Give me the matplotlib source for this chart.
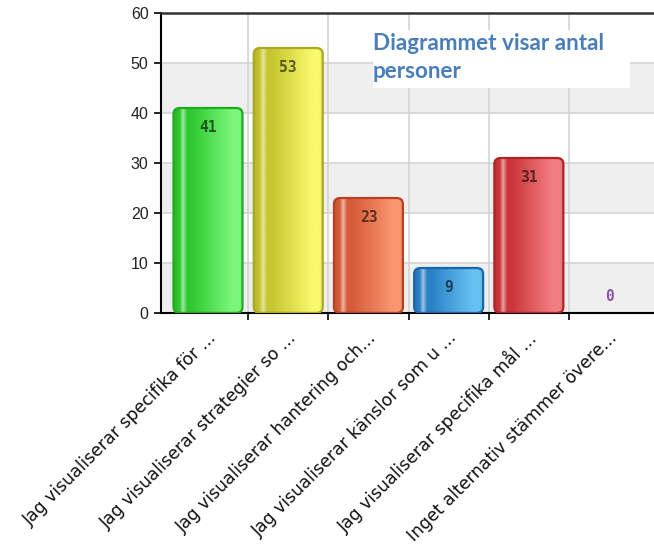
import numpy as np
import matplotlib
matplotlib.use('Agg')
from matplotlib import pyplot as plt
from matplotlib.patches import FancyBboxPatch, Rectangle
from matplotlib.colors import to_rgb
from matplotlib.transforms import ScaledTranslation

categories = [
    'Jag visualiserar specifika för ...',
    'Jag visualiserar strategier so ...',
    'Jag visualiserar hantering och...',
    'Jag visualiserar känslor som u ...',
    'Jag visualiserar specifika mål ...',
    'Inget alternativ stämmer övere...',
]
values = [41, 53, 23, 9, 31, 0]
y_ticks = [0, 10, 20, 30, 40, 50, 60]
note = 'Diagrammet visar antal\npersoner'

# (dark side, light side, edge) for each bar
bar_colours = [
    ('#2fc82f', '#7cf77c', '#1faa1f'),
    ('#c6c630', '#f9f96c', '#a9a922'),
    ('#d65a38', '#f99670', '#b84022'),
    ('#2a80c6', '#66c2f2', '#1b64a8'),
    ('#cb3438', '#f27e82', '#b02226'),
    ('#9966bb', '#bb99dd', '#8855aa'),
]
label_zero_colour = '#8855aa'

fig = plt.figure(figsize=(6.54, 5.52), dpi=100)
ax = fig.add_axes([161/654, 1 - 313/552, 1 - 161/654, 300/552])

x = np.arange(len(categories))
bars = ax.bar(x, values, width=0.86, color='none', edgecolor='none', zorder=2)


def gradient(dark, light, n=200):
    d = np.array(to_rgb(dark))
    l = np.array(to_rgb(light))
    hi = d + (1 - d) * 0.55
    pos = [0.0, 0.08, 0.13, 0.19, 0.25, 0.85, 0.95, 1.0]
    cols = [d * 0.92, d, hi, d, d, l, l, l * 0.93]
    t = np.linspace(0, 1, n)
    img = np.stack([np.interp(t, pos, [c[k] for c in cols]) for k in range(3)], axis=-1)
    return img[np.newaxis, :, :]


for rect, (dark, light, edge), v in zip(bars, bar_colours, values):
    if v <= 0:
        continue
    x0, w, h = rect.get_x(), rect.get_width(), rect.get_height()
    patch = FancyBboxPatch((x0, 0), w, h,
                           boxstyle='round,pad=0,rounding_size=0.08',
                           mutation_aspect=15, facecolor='none',
                           edgecolor=edge, linewidth=1.6, zorder=3)
    ax.add_patch(patch)
    im = ax.imshow(gradient(dark, light), extent=(x0, x0 + w, 0, h),
                   aspect='auto', zorder=2.5, interpolation='bilinear')
    im.set_clip_path(patch)

for xi, v in zip(x, values):
    if v > 0:
        ax.text(xi, v - 4.0, str(v), ha='center', va='center',
                fontsize=10.5, fontweight='bold', family='DejaVu Sans Mono',
                color='black', alpha=0.6, zorder=4)
    else:
        ax.text(xi, v + 3.3, str(v), ha='center', va='center',
                fontsize=10.5, fontweight='bold', family='DejaVu Sans Mono',
                color=label_zero_colour, zorder=4)

# background bands
for lo in y_ticks[:-1:2]:
    ax.axhspan(lo, lo + 10, color='#efefef', zorder=0, linewidth=0)

ax.set_xlim(-0.586, 5.56)
ax.set_ylim(0, 60)
ax.set_yticks(y_ticks)
ax.set_xticks(x[:-1] + 0.5)
ax.set_xticklabels([])
ax.set_xticks(x, minor=True)
ax.set_xticklabels(categories, minor=True, rotation=45, ha='right',
                   va='center', rotation_mode='anchor',
                   family='DejaVu Sans', fontsize=12.4, color='#111111')
ax.tick_params(axis='x', which='minor', length=0, pad=16)
ax.tick_params(axis='x', which='major', length=5, width=1.2, color='black')
ax.tick_params(axis='y', length=5, width=1.2, pad=4, labelsize=11.5,
               labelcolor='#222222')
for lbl in ax.get_yticklabels():
    lbl.set_family('Liberation Sans')
for lbl in ax.get_xticklabels(minor=True):
    lbl.set_transform(lbl.get_transform() + ScaledTranslation(4/72, 0, fig.dpi_scale_trans))

ax.set_axisbelow(True)
ax.grid(which='major', color='#d4d4d4', linewidth=1.2)

ax.spines['right'].set_visible(False)
ax.spines['top'].set_color('#333333')
ax.spines['top'].set_linewidth(1.8)
ax.spines['left'].set_linewidth(1.5)
ax.spines['bottom'].set_linewidth(1.5)

# note box
fig.patches.append(Rectangle((373/654, 1 - 88/552), 257/654, 58/552,
                             transform=fig.transFigure, facecolor='white',
                             edgecolor='none', zorder=5))
fig.text(373/654, 1 - 33/552, note, ha='left', va='top', fontsize=16.2,
         fontweight='bold', family='Lato', color='#4a7ebb',
         linespacing=1.4, zorder=6)

fig.savefig('out.png', dpi=100)
